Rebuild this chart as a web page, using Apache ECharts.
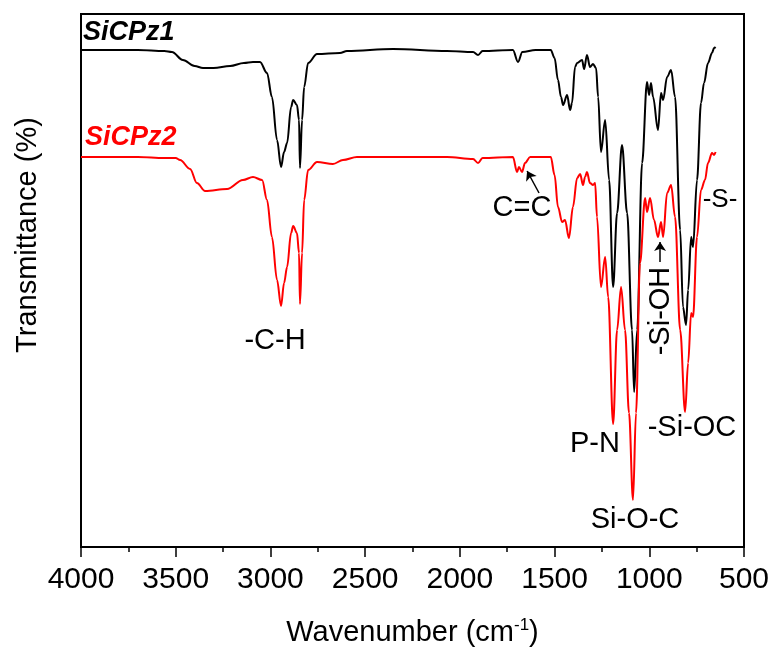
<!DOCTYPE html>
<html>
<head>
<meta charset="utf-8">
<script src="https://cdn.jsdelivr.net/npm/echarts@6/dist/echarts.min.js"></script>
<style>
  html, body { margin: 0; padding: 0; background: #fff; }
  #main { width: 776px; height: 657px; }
</style>
</head>
<body>
<div id="main"></div>
<script>
// wavenumber (cm-1) and transmittance (a.u.)
var wnPz1 = [4000, 3700, 3560, 3520, 3462, 3400, 3356, 3300, 3213, 3140,
  3092, 3055, 3018, 2992, 2965, 2944, 2928, 2912, 2891, 2880,
  2860, 2849, 2844, 2833, 2822, 2801, 2754, 2633, 2596, 2353,
  2068, 1930, 1904, 1880, 1720, 1693, 1670, 1600, 1520, 1500,
  1482, 1466, 1455, 1434, 1418, 1408, 1392, 1381, 1355, 1344,
  1329, 1313, 1297, 1281, 1270, 1255, 1233, 1212, 1191, 1170,
  1144, 1117, 1091, 1080, 1064, 1038, 1012, 1001, 991, 980,
  954, 938, 927, 906, 885, 864, 837, 822, 806, 795,
  779, 769, 748, 727, 711, 690, 669, 658, 650];
var tPz1 = [99.4, 99.4, 99.2, 99.0, 97.4, 96.2, 95.8, 95.8, 96.2, 96.8,
  97.0, 97.0, 94.8, 90.0, 81.4, 76.0, 79.0, 80.8, 88.0, 89.4,
  88.4, 85.4, 75.8, 85.4, 92.0, 96.8, 98.6, 98.8, 99.2, 99.6,
  99.2, 99.0, 98.4, 99.2, 99.4, 97.0, 99.0, 99.4, 99.4, 97.8,
  93.4, 90.0, 88.4, 90.4, 87.4, 88.8, 96.0, 96.8, 97.4, 95.6,
  98.4, 96.0, 96.6, 95.8, 90.0, 79.0, 85.4, 73.4, 52.0, 66.8,
  80.4, 66.8, 43.4, 31.0, 43.4, 76.8, 93.0, 90.4, 92.8, 90.0,
  83.4, 90.8, 89.4, 94.0, 95.4, 90.0, 63.4, 48.0, 44.4, 51.4,
  62.0, 60.0, 73.4, 88.8, 92.8, 96.8, 98.8, 99.8, 100.0];

var wnPz2 = [4000, 3700, 3560, 3500, 3477, 3424, 3388, 3345, 3229, 3145, 3092,
  3044, 3018, 2992, 2965, 2944, 2928, 2912, 2891, 2880, 2860,
  2849, 2844, 2833, 2822, 2801, 2754, 2670, 2617, 2543, 2068,
  1930, 1904, 1880, 1720, 1698, 1688, 1672, 1656, 1629, 1520,
  1500, 1482, 1460, 1445, 1424, 1403, 1381, 1365, 1350, 1339,
  1329, 1313, 1297, 1286, 1276, 1255, 1233, 1217, 1191, 1170,
  1149, 1128, 1107, 1086, 1070, 1049, 1022, 1012, 996, 975,
  954, 938, 927, 906, 885, 864, 837, 811, 795, 779,
  769, 748, 727, 706, 690, 669, 658, 650];
var tPz2 = [78.0, 78.0, 77.8, 77.8, 77.4, 75.6, 72.8, 71.2, 71.6, 73.4, 74.0,
  73.4, 69.4, 62.0, 53.4, 48.2, 52.8, 56.0, 62.8, 64.2, 62.8,
  58.8, 48.6, 58.8, 69.4, 75.4, 77.0, 76.6, 77.4, 78.0, 78.0,
  77.6, 76.8, 77.8, 78.0, 75.0, 76.0, 75.0, 76.8, 78.0, 78.0,
  74.4, 68.0, 65.0, 65.4, 61.8, 68.0, 73.8, 74.6, 72.4, 74.0,
  75.0, 72.8, 72.4, 72.8, 66.0, 52.0, 58.0, 50.0, 24.6, 43.4,
  52.0, 43.4, 26.8, 9.4, 26.8, 56.8, 69.8, 67.0, 69.8, 65.4,
  62.0, 65.0, 62.0, 70.8, 72.4, 66.0, 43.4, 27.0, 36.8, 46.8,
  46.0, 62.0, 71.4, 73.4, 76.8, 78.8, 78.4, 79.0];

var seriesNames = ['SiCPz1', 'SiCPz2'];
var xTicks = [500, 4000, 500]; // min, max, interval

function pairs(xs, ys) {
  var out = [];
  for (var i = 0; i < xs.length; i++) out.push([xs[i], ys[i]]);
  return out;
}

var FONT = '"Liberation Sans", Arial, sans-serif';
var myChart = echarts.init(document.getElementById('main'));

function txt(x, y, s, size, extra) {
  var st = { text: s, x: 0, y: 0, fill: '#000', font: size + 'px ' + FONT, textAlign: 'center', textVerticalAlign: 'middle' };
  if (extra) for (var k in extra) st[k] = extra[k];
  return { type: 'text', x: x, y: y, style: st, z: 10 };
}

var option = {
  backgroundColor: '#fff',
  animation: false,
  grid: { left: 81, right: 32, top: 14, bottom: 110, show: true, borderColor: '#000', borderWidth: 2 },
  xAxis: {
    type: 'value',
    inverse: true,
    min: xTicks[0], max: xTicks[1], interval: xTicks[2],
    name: 'Wavenumber (cm{sup|-1})',
    nameLocation: 'middle',
    nameGap: 70,
    nameTextStyle: {
      fontFamily: FONT, fontSize: 29, color: '#000',
      rich: { sup: { fontFamily: FONT, fontSize: 17, color: '#000', verticalAlign: 'top', padding: [0, 0, 14, 0] } }
    },
    axisLine: { lineStyle: { color: '#000', width: 2 } },
    axisTick: { inside: false, length: 10, lineStyle: { color: '#000', width: 1.5 } },
    minorTick: { show: true, splitNumber: 2, length: 5, lineStyle: { color: '#000', width: 1.5 } },
    axisLabel: {
      fontFamily: FONT, fontSize: 30, color: '#000', margin: 18,
      formatter: function (v) { return String(v); }
    },
    splitLine: { show: false }
  },
  yAxis: {
    type: 'value', min: 0, max: 106.6,
    axisLine: { show: true, lineStyle: { color: '#000', width: 2 } },
    axisTick: { show: false },
    axisLabel: { show: false },
    splitLine: { show: false }
  },
  series: [
    {
      name: seriesNames[0], type: 'line', data: pairs(wnPz1, tPz1),
      showSymbol: false, smooth: 0.35, smoothMonotone: 'x',
      lineStyle: { color: '#000', width: 2 },
      markLine: {
        silent: true, symbol: ['none', 'arrow'], symbolSize: 9,
        label: { show: false },
        lineStyle: { color: '#000', width: 1.5, type: 'solid' },
        data: [[{ coord: [943, 57.0] }, { coord: [943, 61.0] }]]
      }
    },
    {
      name: seriesNames[1], type: 'line', data: pairs(wnPz2, tPz2),
      showSymbol: false, smooth: 0.35, smoothMonotone: 'x',
      lineStyle: { color: '#ff0000', width: 2 },
      markLine: {
        silent: true, symbol: ['none', 'arrow'], symbolSize: 9,
        label: { show: false },
        lineStyle: { color: '#000', width: 1.5, type: 'solid' },
        data: [[{ coord: [1582, 70.8] }, { coord: [1645, 75.2] }]]
      }
    }
  ],
  graphic: [
    txt(83, 33, seriesNames[0], 27, { textAlign: 'left', font: 'italic bold 27px ' + FONT }),
    txt(85, 138, seriesNames[1], 27, { textAlign: 'left', font: 'italic bold 27px ' + FONT, fill: '#ff0000' }),
    txt(275, 341, '-C-H', 29),
    txt(522, 208, 'C=C', 29),
    txt(720, 200, '-S-', 26),
    { type: 'text', x: 661, y: 311, rotation: Math.PI / 2, z: 10,
      style: { text: '-Si-OH', fill: '#000', font: '29px ' + FONT, textAlign: 'center', textVerticalAlign: 'middle' } },
    txt(595, 444, 'P-N', 29),
    txt(692, 428, '-Si-OC', 29),
    txt(635, 520, 'Si-O-C', 29),
    { type: 'text', x: 28, y: 235, rotation: Math.PI / 2, z: 10,
      style: { text: 'Transmittance (%)', fill: '#000', font: '29px ' + FONT, textAlign: 'center', textVerticalAlign: 'middle' } }
  ]
};

myChart.setOption(option);
</script>
</body>
</html>
